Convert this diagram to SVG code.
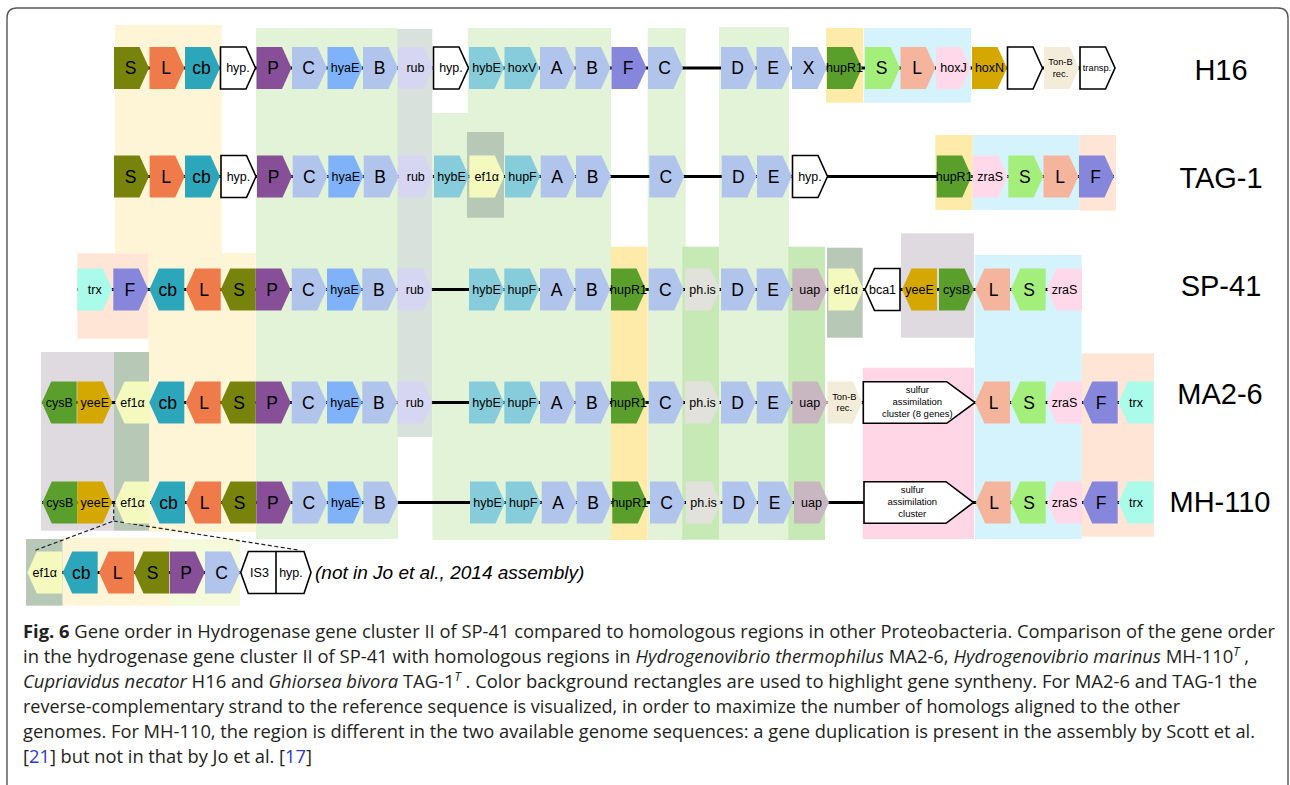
<svg xmlns="http://www.w3.org/2000/svg" width="1290" height="785" viewBox="0 0 1290 785">
<defs>
<style>
text{font-family:"Liberation Sans",Arial,sans-serif;fill:#000;text-anchor:middle}
.b{font-size:17.5px}
.s{font-size:12.5px}
.t{font-size:9.3px}
.u{font-size:9.5px}
.lab{font-size:29px}
.olive{fill:#78830C}.orange{fill:#EF7A4A}.teal{fill:#2CA6BB}.wh{fill:#fff;stroke:#000;stroke-width:1.6}
.purple{fill:#874F98}.lb{fill:#B1C4EC}.blue{fill:#80B2FA}.rub{fill:#D6D6F2}.hyb{fill:#87CCDB}
.violet{fill:#8686DC}.green{fill:#5A9F2B}.lgreen{fill:#A4EF7C}.salmon{fill:#F5B59D}.pink{fill:#FFD9EA}
.gold{fill:#D4A800}.tonb{fill:#F3ECD8}.ef{fill:#F4F9BD}.aqua{fill:#ABFBEB}.ph{fill:#E1E2DB}.uap{fill:#C8B6C1}
.bgY{fill:#FDF5D6}.bgG{fill:#E2F3D8}.bgR{fill:#D8E1DC}.bgE{fill:#B7C8B6}.bgD{fill:#C7E9B5}.bgH{fill:#FEEBA9}
.bgB{fill:#D5F3FC}.bgP{fill:#FEE5D5}.bgK{fill:#FFD6E6}.bgL{fill:#DEDAE0}.bgW{fill:#fff}.bgYG{fill:#F4FADA}
.bk{stroke:#000;stroke-width:3;fill:none}
.dash{stroke:#222;stroke-width:1.2;fill:none;stroke-dasharray:4 2.5}
.cap{font-family:"Open Sans","Noto Sans",sans-serif;font-size:18px;fill:#231F20;text-anchor:start}
</style>
<path id="ra" d="M0,0 H25.5 L35,21 L25.5,42 H0 Z"/>
<path id="la" d="M35,0 H9.5 L0,21 L9.5,42 H35 Z"/>
</defs>
<rect width="1290" height="785" fill="#fff"/>
<path d="M7,790 V18 Q7,8 17,8 H1278 Q1288,8 1288,18 V790" fill="none" stroke="#555" stroke-width="1.4"/>

<g id="backgrounds">
<rect class="bgY" x="115" y="25" width="106.7" height="228"/>
<rect class="bgY" x="148.3" y="253" width="107.4" height="279"/>
<rect class="bgG" x="256" y="28" width="142" height="511"/>
<rect class="bgR" x="397.5" y="29" width="35" height="408"/>
<rect class="bgG" x="432.5" y="28" width="178.5" height="512"/>
<rect class="bgW" x="432.5" y="27" width="35.3" height="86"/>
<rect class="bgE" x="467" y="132" width="37" height="85.7"/>
<rect class="bgG" x="647.7" y="28" width="38" height="512"/>
<rect class="bgD" x="682.3" y="246.7" width="36.7" height="293"/>
<rect class="bgH" x="611" y="246.7" width="36.7" height="293.3"/>
<rect class="bgH" x="826" y="28" width="37.3" height="74.7"/>
<rect class="bgH" x="935.3" y="135" width="37.4" height="75"/>
<rect class="bgG" x="719" y="27" width="70" height="513"/>
<rect class="bgD" x="788.3" y="246.7" width="36.7" height="293.3"/>
<rect class="bgE" x="827" y="247.7" width="35.7" height="90"/>
<rect class="bgL" x="901" y="233.3" width="73" height="104.4"/>
<rect class="bgB" x="864" y="28" width="107" height="74.7"/>
<rect class="bgB" x="972.7" y="135" width="106.6" height="75"/>
<rect class="bgB" x="975" y="255" width="106.7" height="284"/>
<rect class="bgP" x="1079.3" y="135" width="36.7" height="75.7"/>
<rect class="bgP" x="77.3" y="253.3" width="71" height="85.4"/>
<rect class="bgP" x="1081.7" y="353.3" width="72.3" height="183.4"/>
<rect class="bgK" x="862.7" y="367.7" width="111.3" height="171.3"/>
<rect class="bgL" x="41" y="352" width="73" height="178.7"/>
<rect class="bgE" x="114" y="352" width="35" height="178.7"/>
<rect class="bgE" x="26" y="539" width="36.7" height="66.7"/>
<rect class="bgY" x="62.7" y="537.7" width="107.3" height="68"/>
<rect class="bgYG" x="170" y="539" width="70" height="66.7"/>
</g>

<g id="connectors">
<line class="bk" x1="114" y1="68" x2="1115" y2="68"/>
<line class="bk" x1="114" y1="176.5" x2="1114" y2="176.5"/>
<line class="bk" x1="77" y1="289.5" x2="1081" y2="289.5"/>
<line class="bk" x1="42" y1="402.5" x2="1153" y2="402.5"/>
<line class="bk" x1="42" y1="502.5" x2="1153" y2="502.5"/>
<line class="bk" x1="28" y1="572.5" x2="240" y2="572.5"/>
<path class="dash" d="M113.7,503 V521 L33.3,551 M113.7,521 L298.3,550"/>
</g>

<g id="row-H16">
<g id="r1-S"><use href="#ra" x="114" y="47" class="olive"/><text x="130.5" y="74.3" class="b">S</text></g>
<g id="r1-L"><use href="#ra" x="149.5" y="47" class="orange"/><text x="166" y="74.3" class="b">L</text></g>
<g id="r1-cb"><use href="#ra" x="185" y="47" class="teal"/><text x="201.5" y="74.3" class="b">cb</text></g>
<g id="r1-hyp1"><use href="#ra" x="220.5" y="47" class="wh"/><text x="238" y="72.4" class="s">hyp.</text></g>
<g id="r1-P"><use href="#ra" x="256.5" y="47" class="purple"/><text x="273" y="74.3" class="b">P</text></g>
<g id="r1-C"><use href="#ra" x="292" y="47" class="lb"/><text x="308.5" y="74.3" class="b">C</text></g>
<g id="r1-hyaE"><use href="#ra" x="327.5" y="47" class="blue"/><text x="345" y="72.4" class="s">hyaE</text></g>
<g id="r1-B"><use href="#ra" x="363" y="47" class="lb"/><text x="379.5" y="74.3" class="b">B</text></g>
<g id="r1-rub"><use href="#ra" x="398" y="47" class="rub"/><text x="415.5" y="72.4" class="s">rub</text></g>
<g id="r1-hyp2"><use href="#ra" x="433.5" y="47" class="wh"/><text x="451" y="72.4" class="s">hyp.</text></g>
<g id="r1-hybE"><use href="#ra" x="469" y="47" class="hyb"/><text x="486.5" y="72.4" class="s">hybE</text></g>
<g id="r1-hoxV"><use href="#ra" x="504.5" y="47" class="hyb"/><text x="522" y="72.4" class="s">hoxV</text></g>
<g id="r1-A"><use href="#ra" x="540" y="47" class="lb"/><text x="556.5" y="74.3" class="b">A</text></g>
<g id="r1-B2"><use href="#ra" x="575.5" y="47" class="lb"/><text x="592" y="74.3" class="b">B</text></g>
<g id="r1-F"><use href="#ra" x="611.5" y="47" class="violet"/><text x="628" y="74.3" class="b">F</text></g>
<g id="r1-C2"><use href="#ra" x="648" y="47" class="lb"/><text x="664.5" y="74.3" class="b">C</text></g>
<g id="r1-D"><use href="#ra" x="721" y="47" class="lb"/><text x="737.5" y="74.3" class="b">D</text></g>
<g id="r1-E"><use href="#ra" x="756.5" y="47" class="lb"/><text x="773" y="74.3" class="b">E</text></g>
<g id="r1-X"><use href="#ra" x="792" y="47" class="lb"/><text x="808.5" y="74.3" class="b">X</text></g>
<g id="r1-hupR1"><use href="#ra" x="827" y="47" class="green"/><text x="844.5" y="72.4" class="s">hupR1</text></g>
<g id="r1-S2"><use href="#ra" x="865" y="47" class="lgreen"/><text x="881.5" y="74.3" class="b">S</text></g>
<g id="r1-L2"><use href="#ra" x="900.5" y="47" class="salmon"/><text x="917" y="74.3" class="b">L</text></g>
<g id="r1-hoxJ"><use href="#ra" x="936" y="47" class="pink"/><text x="953.5" y="72.4" class="s">hoxJ</text></g>
<g id="r1-hoxN"><use href="#ra" x="972" y="47" class="gold"/><text x="989.5" y="72.4" class="s">hoxN</text></g>
<g id="r1-blank"><use href="#ra" x="1007.5" y="47" class="wh"/></g>
<g id="r1-tonb"><use href="#ra" x="1044" y="47" class="tonb"/><text x="1060.5" y="65" class="t">Ton-B</text><text x="1060.5" y="76.5" class="t">rec.</text></g>
<g id="r1-transp"><use href="#ra" x="1080" y="47" class="wh"/><text x="1097" y="71.3" class="t">transp.</text></g>
<text x="1221" y="80" class="lab">H16</text>
</g>

<g id="row-TAG-1">
<g id="r2-S"><use href="#ra" x="114" y="155.5" class="olive"/><text x="130.5" y="182.8" class="b">S</text></g>
<g id="r2-L"><use href="#ra" x="149.7" y="155.5" class="orange"/><text x="166.2" y="182.8" class="b">L</text></g>
<g id="r2-cb"><use href="#ra" x="185" y="155.5" class="teal"/><text x="201.5" y="182.8" class="b">cb</text></g>
<g id="r2-hyp"><use href="#ra" x="221" y="155.5" class="wh"/><text x="238.5" y="180.9" class="s">hyp.</text></g>
<g id="r2-P"><use href="#ra" x="257" y="155.5" class="purple"/><text x="273.5" y="182.8" class="b">P</text></g>
<g id="r2-C"><use href="#ra" x="292.7" y="155.5" class="lb"/><text x="309.2" y="182.8" class="b">C</text></g>
<g id="r2-hyaE"><use href="#ra" x="328.3" y="155.5" class="blue"/><text x="345.8" y="180.9" class="s">hyaE</text></g>
<g id="r2-B"><use href="#ra" x="363.7" y="155.5" class="lb"/><text x="380.2" y="182.8" class="b">B</text></g>
<g id="r2-rub"><use href="#ra" x="398.3" y="155.5" class="rub"/><text x="415.8" y="180.9" class="s">rub</text></g>
<g id="r2-hybE"><use href="#ra" x="434" y="155.5" class="hyb"/><text x="451.5" y="180.9" class="s">hybE</text></g>
<g id="r2-ef1a"><use href="#ra" x="469.3" y="155.5" class="ef"/><text x="486.8" y="180.9" class="s">ef1α</text></g>
<g id="r2-hupF"><use href="#ra" x="505" y="155.5" class="hyb"/><text x="522.5" y="180.9" class="s">hupF</text></g>
<g id="r2-A"><use href="#ra" x="540.7" y="155.5" class="lb"/><text x="557.2" y="182.8" class="b">A</text></g>
<g id="r2-B2"><use href="#ra" x="576" y="155.5" class="lb"/><text x="592.5" y="182.8" class="b">B</text></g>
<g id="r2-C2"><use href="#ra" x="649.3" y="155.5" class="lb"/><text x="665.8" y="182.8" class="b">C</text></g>
<g id="r2-D"><use href="#ra" x="721.7" y="155.5" class="lb"/><text x="738.2" y="182.8" class="b">D</text></g>
<g id="r2-E"><use href="#ra" x="757" y="155.5" class="lb"/><text x="773.5" y="182.8" class="b">E</text></g>
<g id="r2-hyp2"><use href="#ra" x="792.5" y="155.5" class="wh"/><text x="810" y="180.9" class="s">hyp.</text></g>
<g id="r2-hupR1"><use href="#ra" x="936.7" y="155.5" class="green"/><text x="954.2" y="180.9" class="s">hupR1</text></g>
<g id="r2-zraS"><use href="#ra" x="972.7" y="155.5" class="pink"/><text x="990.2" y="180.9" class="s">zraS</text></g>
<g id="r2-S2"><use href="#ra" x="1008.3" y="155.5" class="lgreen"/><text x="1024.8" y="182.8" class="b">S</text></g>
<g id="r2-L2"><use href="#ra" x="1043.5" y="155.5" class="salmon"/><text x="1060" y="182.8" class="b">L</text></g>
<g id="r2-F"><use href="#ra" x="1079" y="155.5" class="violet"/><text x="1095.5" y="182.8" class="b">F</text></g>
<text x="1221" y="188" class="lab">TAG-1</text>
</g>

<g id="row-SP-41">
<g id="r3-trx"><use href="#ra" x="77.3" y="268.5" class="aqua"/><text x="94.8" y="293.9" class="s">trx</text></g>
<g id="r3-F"><use href="#ra" x="113.3" y="268.5" class="violet"/><text x="129.8" y="295.8" class="b">F</text></g>
<g id="r3-cb"><use href="#la" x="149.3" y="268.5" class="teal"/><text x="167.8" y="295.8" class="b">cb</text></g>
<g id="r3-L"><use href="#la" x="185.7" y="268.5" class="orange"/><text x="204.2" y="295.8" class="b">L</text></g>
<g id="r3-S"><use href="#la" x="220.7" y="268.5" class="olive"/><text x="239.2" y="295.8" class="b">S</text></g>
<g id="r3-P"><use href="#ra" x="255.7" y="268.5" class="purple"/><text x="272.2" y="295.8" class="b">P</text></g>
<g id="r3-C"><use href="#ra" x="291.7" y="268.5" class="lb"/><text x="308.2" y="295.8" class="b">C</text></g>
<g id="r3-hyaE"><use href="#ra" x="327" y="268.5" class="blue"/><text x="344.5" y="293.9" class="s">hyaE</text></g>
<g id="r3-B"><use href="#ra" x="362.3" y="268.5" class="lb"/><text x="378.8" y="295.8" class="b">B</text></g>
<g id="r3-rub"><use href="#ra" x="397.3" y="268.5" class="rub"/><text x="414.8" y="293.9" class="s">rub</text></g>
<g id="r3-hybE"><use href="#ra" x="469" y="268.5" class="hyb"/><text x="486.5" y="293.9" class="s">hybE</text></g>
<g id="r3-hupF"><use href="#ra" x="504.3" y="268.5" class="hyb"/><text x="521.8" y="293.9" class="s">hupF</text></g>
<g id="r3-A"><use href="#ra" x="540" y="268.5" class="lb"/><text x="556.5" y="295.8" class="b">A</text></g>
<g id="r3-B2"><use href="#ra" x="575.3" y="268.5" class="lb"/><text x="591.8" y="295.8" class="b">B</text></g>
<g id="r3-hupR1"><use href="#ra" x="611" y="268.5" class="green"/><text x="628.5" y="293.9" class="s">hupR1</text></g>
<g id="r3-C2"><use href="#ra" x="648.7" y="268.5" class="lb"/><text x="665.2" y="295.8" class="b">C</text></g>
<g id="r3-ph"><use href="#ra" x="685" y="268.5" class="ph"/><text x="702.5" y="293.9" class="s">ph.is</text></g>
<g id="r3-D"><use href="#ra" x="721" y="268.5" class="lb"/><text x="737.5" y="295.8" class="b">D</text></g>
<g id="r3-E"><use href="#ra" x="756.7" y="268.5" class="lb"/><text x="773.2" y="295.8" class="b">E</text></g>
<g id="r3-uap"><use href="#ra" x="792.3" y="268.5" class="uap"/><text x="809.8" y="293.9" class="s">uap</text></g>
<g id="r3-ef1a"><use href="#ra" x="828.3" y="268.5" class="ef"/><text x="845.8" y="293.9" class="s">ef1α</text></g>
<g id="r3-bca1"><use href="#la" x="865" y="268.5" class="wh"/><text x="882.5" y="293.9" class="s">bca1</text></g>
<g id="r3-yeeE"><use href="#la" x="902" y="268.5" class="gold"/><text x="919.5" y="293.9" class="s">yeeE</text></g>
<g id="r3-cysB"><use href="#ra" x="939" y="268.5" class="green"/><text x="956.5" y="293.9" class="s">cysB</text></g>
<g id="r3-L2"><use href="#la" x="975" y="268.5" class="salmon"/><text x="993.5" y="295.8" class="b">L</text></g>
<g id="r3-S2"><use href="#la" x="1010.7" y="268.5" class="lgreen"/><text x="1029.2" y="295.8" class="b">S</text></g>
<g id="r3-zraS"><use href="#la" x="1047" y="268.5" class="pink"/><text x="1064.5" y="293.9" class="s">zraS</text></g>
<text x="1221" y="296" class="lab">SP-41</text>
</g>

<g id="row-MA2-6">
<g id="r4-cysB"><use href="#la" x="41.7" y="381.5" class="green"/><text x="59.2" y="406.9" class="s">cysB</text></g>
<g id="r4-yeeE"><use href="#ra" x="77.3" y="381.5" class="gold"/><text x="94.8" y="406.9" class="s">yeeE</text></g>
<g id="r4-ef1a"><use href="#la" x="115" y="381.5" class="ef"/><text x="132.5" y="406.9" class="s">ef1α</text></g>
<g id="r4-cb"><use href="#la" x="149.3" y="381.5" class="teal"/><text x="167.8" y="408.8" class="b">cb</text></g>
<g id="r4-L"><use href="#la" x="185.7" y="381.5" class="orange"/><text x="204.2" y="408.8" class="b">L</text></g>
<g id="r4-S"><use href="#la" x="220.7" y="381.5" class="olive"/><text x="239.2" y="408.8" class="b">S</text></g>
<g id="r4-P"><use href="#ra" x="255.7" y="381.5" class="purple"/><text x="272.2" y="408.8" class="b">P</text></g>
<g id="r4-C"><use href="#ra" x="291.7" y="381.5" class="lb"/><text x="308.2" y="408.8" class="b">C</text></g>
<g id="r4-hyaE"><use href="#ra" x="327" y="381.5" class="blue"/><text x="344.5" y="406.9" class="s">hyaE</text></g>
<g id="r4-B"><use href="#ra" x="362.3" y="381.5" class="lb"/><text x="378.8" y="408.8" class="b">B</text></g>
<g id="r4-rub"><use href="#ra" x="397.3" y="381.5" class="rub"/><text x="414.8" y="406.9" class="s">rub</text></g>
<g id="r4-hybE"><use href="#ra" x="469" y="381.5" class="hyb"/><text x="486.5" y="406.9" class="s">hybE</text></g>
<g id="r4-hupF"><use href="#ra" x="504.3" y="381.5" class="hyb"/><text x="521.8" y="406.9" class="s">hupF</text></g>
<g id="r4-A"><use href="#ra" x="540" y="381.5" class="lb"/><text x="556.5" y="408.8" class="b">A</text></g>
<g id="r4-B2"><use href="#ra" x="575.3" y="381.5" class="lb"/><text x="591.8" y="408.8" class="b">B</text></g>
<g id="r4-hupR1"><use href="#ra" x="611" y="381.5" class="green"/><text x="628.5" y="406.9" class="s">hupR1</text></g>
<g id="r4-C2"><use href="#ra" x="648.7" y="381.5" class="lb"/><text x="665.2" y="408.8" class="b">C</text></g>
<g id="r4-ph"><use href="#ra" x="685" y="381.5" class="ph"/><text x="702.5" y="406.9" class="s">ph.is</text></g>
<g id="r4-D"><use href="#ra" x="721" y="381.5" class="lb"/><text x="737.5" y="408.8" class="b">D</text></g>
<g id="r4-E"><use href="#ra" x="756.7" y="381.5" class="lb"/><text x="773.2" y="408.8" class="b">E</text></g>
<g id="r4-uap"><use href="#ra" x="792.3" y="381.5" class="uap"/><text x="809.8" y="406.9" class="s">uap</text></g>
<g id="r4-tonb"><use href="#ra" x="827.3" y="381.5" class="tonb"/><text x="844.3" y="399.5" class="t">Ton-B</text><text x="844.3" y="411" class="t">rec.</text></g>
<g id="r4-sulfur"><path class="wh" d="M863.3,381.7 H946.7 L975,402.5 L946.7,423.3 H863.3 Z"/><text x="917.3" y="393" class="u">sulfur</text><text x="917.3" y="405" class="u">assimilation</text><text x="917.3" y="417" class="u">cluster (8 genes)</text></g>
<g id="r4-L2"><use href="#la" x="975" y="381.5" class="salmon"/><text x="993.5" y="408.8" class="b">L</text></g>
<g id="r4-S2"><use href="#la" x="1010.7" y="381.5" class="lgreen"/><text x="1029.2" y="408.8" class="b">S</text></g>
<g id="r4-zraS"><use href="#la" x="1047" y="381.5" class="pink"/><text x="1064.5" y="406.9" class="s">zraS</text></g>
<g id="r4-F"><use href="#la" x="1082.7" y="381.5" class="violet"/><text x="1101.2" y="408.8" class="b">F</text></g>
<g id="r4-trx"><use href="#la" x="1118.5" y="381.5" class="aqua"/><text x="1136" y="406.9" class="s">trx</text></g>
<text x="1220" y="403.5" class="lab">MA2-6</text>
</g>

<g id="row-MH-110">
<g id="r5-cysB"><use href="#la" x="42.3" y="481.5" class="green"/><text x="59.8" y="506.9" class="s">cysB</text></g>
<g id="r5-yeeE"><use href="#ra" x="77.3" y="481.5" class="gold"/><text x="94.8" y="506.9" class="s">yeeE</text></g>
<g id="r5-ef1a"><use href="#la" x="115" y="481.5" class="ef"/><text x="132.5" y="506.9" class="s">ef1α</text></g>
<g id="r5-cb"><use href="#la" x="150" y="481.5" class="teal"/><text x="168.5" y="508.8" class="b">cb</text></g>
<g id="r5-L"><use href="#la" x="186" y="481.5" class="orange"/><text x="204.5" y="508.8" class="b">L</text></g>
<g id="r5-S"><use href="#la" x="221" y="481.5" class="olive"/><text x="239.5" y="508.8" class="b">S</text></g>
<g id="r5-P"><use href="#ra" x="256.3" y="481.5" class="purple"/><text x="272.8" y="508.8" class="b">P</text></g>
<g id="r5-C"><use href="#ra" x="292.3" y="481.5" class="lb"/><text x="308.8" y="508.8" class="b">C</text></g>
<g id="r5-hyaE"><use href="#ra" x="327.7" y="481.5" class="blue"/><text x="345.2" y="506.9" class="s">hyaE</text></g>
<g id="r5-B"><use href="#ra" x="363.3" y="481.5" class="lb"/><text x="379.8" y="508.8" class="b">B</text></g>
<g id="r5-hybE"><use href="#ra" x="470" y="481.5" class="hyb"/><text x="487.5" y="506.9" class="s">hybE</text></g>
<g id="r5-hupF"><use href="#ra" x="505.7" y="481.5" class="hyb"/><text x="523.2" y="506.9" class="s">hupF</text></g>
<g id="r5-A"><use href="#ra" x="541.7" y="481.5" class="lb"/><text x="558.2" y="508.8" class="b">A</text></g>
<g id="r5-B2"><use href="#ra" x="576.7" y="481.5" class="lb"/><text x="593.2" y="508.8" class="b">B</text></g>
<g id="r5-hupR1"><use href="#ra" x="612.3" y="481.5" class="green"/><text x="629.8" y="506.9" class="s">hupR1</text></g>
<g id="r5-C2"><use href="#ra" x="650" y="481.5" class="lb"/><text x="666.5" y="508.8" class="b">C</text></g>
<g id="r5-ph"><use href="#ra" x="686" y="481.5" class="ph"/><text x="703.5" y="506.9" class="s">ph.is</text></g>
<g id="r5-D"><use href="#ra" x="722.3" y="481.5" class="lb"/><text x="738.8" y="508.8" class="b">D</text></g>
<g id="r5-E"><use href="#ra" x="758" y="481.5" class="lb"/><text x="774.5" y="508.8" class="b">E</text></g>
<g id="r5-uap"><use href="#ra" x="794" y="481.5" class="uap"/><text x="811.5" y="506.9" class="s">uap</text></g>
<g id="r5-sulfur"><path class="wh" d="M864,481.7 H946 L973.5,502.5 L946,523.3 H864 Z"/><text x="912.3" y="493" class="u">sulfur</text><text x="912.3" y="505" class="u">assimilation</text><text x="912.3" y="517" class="u">cluster</text></g>
<g id="r5-L2"><use href="#la" x="975.7" y="481.5" class="salmon"/><text x="994.2" y="508.8" class="b">L</text></g>
<g id="r5-S2"><use href="#la" x="1010.7" y="481.5" class="lgreen"/><text x="1029.2" y="508.8" class="b">S</text></g>
<g id="r5-zraS"><use href="#la" x="1047" y="481.5" class="pink"/><text x="1064.5" y="506.9" class="s">zraS</text></g>
<g id="r5-F"><use href="#la" x="1082.7" y="481.5" class="violet"/><text x="1101.2" y="508.8" class="b">F</text></g>
<g id="r5-trx"><use href="#la" x="1118.5" y="481.5" class="aqua"/><text x="1136" y="506.9" class="s">trx</text></g>
<text x="1220" y="512" class="lab">MH-110</text>
</g>

<g id="row-inset">
<g id="r6-ef1a"><use href="#la" x="27.3" y="551.5" class="ef"/><text x="44.8" y="576.9" class="s">ef1α</text></g>
<g id="r6-cb"><use href="#la" x="62.7" y="551.5" class="teal"/><text x="81.2" y="578.8" class="b">cb</text></g>
<g id="r6-L"><use href="#la" x="99" y="551.5" class="orange"/><text x="117.5" y="578.8" class="b">L</text></g>
<g id="r6-S"><use href="#la" x="134" y="551.5" class="olive"/><text x="152.5" y="578.8" class="b">S</text></g>
<g id="r6-P"><use href="#ra" x="169.7" y="551.5" class="purple"/><text x="186.2" y="578.8" class="b">P</text></g>
<g id="r6-C"><use href="#ra" x="205" y="551.5" class="lb"/><text x="221.5" y="578.8" class="b">C</text></g>
<g id="r6-IS3-hyp"><path class="wh" d="M240.7,572.5 L248.3,551.5 H304 L311,572.5 L304,593.5 H248.3 Z"/><line x1="276" y1="551.5" x2="276" y2="593.5" stroke="#000" stroke-width="1.6"/><text x="259.5" y="576.9" class="s">IS3</text><text x="291" y="576.9" class="s">hyp.</text></g>
<text x="315" y="578.5" style="font-size:19px;font-style:italic;text-anchor:start">(not in Jo et al., 2014 assembly)</text>
</g>

<g id="caption">
<text class="cap" x="23" y="638" textLength="1252" lengthAdjust="spacingAndGlyphs"><tspan font-weight="bold">Fig. 6</tspan> Gene order in Hydrogenase gene cluster II of SP-41 compared to homologous regions in other Proteobacteria. Comparison of the gene order</text>
<text class="cap" x="23" y="663" textLength="1226" lengthAdjust="spacingAndGlyphs">in the hydrogenase gene cluster II of SP-41 with homologous regions in <tspan font-style="italic">Hydrogenovibrio thermophilus</tspan> MA2-6, <tspan font-style="italic">Hydrogenovibrio marinus</tspan> MH-110<tspan font-style="italic" font-size="12" dy="-7">T</tspan><tspan dy="7"> ,</tspan></text>
<text class="cap" x="23" y="688" textLength="1234" lengthAdjust="spacingAndGlyphs"><tspan font-style="italic">Cupriavidus necator</tspan> H16 and <tspan font-style="italic">Ghiorsea bivora</tspan> TAG-1<tspan font-style="italic" font-size="12" dy="-7">T</tspan><tspan dy="7"> . Color background rectangles are used to highlight gene syntheny. For MA2-6 and TAG-1 the</tspan></text>
<text class="cap" x="23" y="713" textLength="1157" lengthAdjust="spacingAndGlyphs">reverse-complementary strand to the reference sequence is visualized, in order to maximize the number of homologs aligned to the other</text>
<text class="cap" x="23" y="738" textLength="1232" lengthAdjust="spacingAndGlyphs">genomes. For MH-110, the region is different in the two available genome sequences: a gene duplication is present in the assembly by Scott et al.</text>
<text class="cap" x="23" y="763" textLength="289" lengthAdjust="spacingAndGlyphs">[<tspan fill="#3036D0">21</tspan>] but not in that by Jo et al. [<tspan fill="#3036D0">17</tspan>]</text>
</g>
</svg>
